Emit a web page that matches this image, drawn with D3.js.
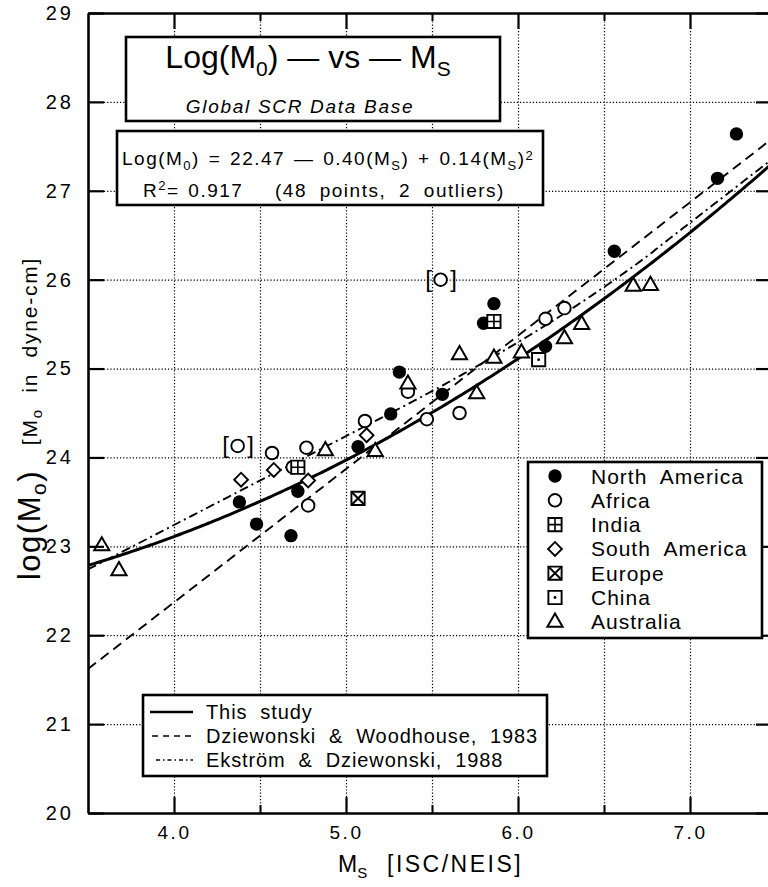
<!DOCTYPE html>
<html>
<head>
<meta charset="utf-8">
<script src="https://cdn.jsdelivr.net/npm/d3@7"></script>
<style>
  body { margin: 0; background: #fff; }
  svg { display: block; }
  text { font-family: 'Liberation Sans', Arial, Helvetica, sans-serif; fill: #000; }
</style>
</head>
<body>
<svg id="chart" width="768" height="887"></svg>
<script>
// values (Ms, log M0)
var northAmerica = [[4.38, 23.50], [4.48, 23.25], [4.68, 23.12], [4.72, 23.62], [5.07, 24.12], [5.26, 24.49], [5.31, 24.96],
  [5.56, 24.71], [5.80, 25.51], [5.86, 25.73], [6.16, 25.25], [6.56, 26.32], [7.16, 27.14], [7.27, 27.64]];
var africa = [[4.57, 24.05], [4.69, 23.89], [4.77, 24.11], [4.78, 23.46], [5.11, 24.41], [5.36, 24.74], [5.47, 24.43],
  [5.66, 24.50], [6.16, 25.56], [6.27, 25.68]];
var africaOutliers = [[4.37, 24.13], [5.55, 26.00]];
var india = [[4.72, 23.89], [5.86, 25.53]];
var southAmerica = [[4.39, 23.75], [4.58, 23.86], [4.78, 23.74], [5.12, 24.25]];
var europe = [[5.07, 23.54]];
var china = [[6.12, 25.10]];
var australia = [[3.58, 23.01], [3.68, 22.73], [4.88, 24.08], [5.17, 24.07], [5.36, 24.83], [5.66, 25.16], [5.76, 24.72],
  [5.86, 25.12], [6.02, 25.18], [6.27, 25.34], [6.37, 25.50], [6.67, 25.93], [6.77, 25.94]];

// relations drawn as lines
var thisStudyCoef = [22.47, -0.40, 0.14];           // a + b*Ms + c*Ms^2 (printed in the box)
var dwLine = [[3.5, 21.62], [7.5, 27.62]];          // Dziewonski & Woodhouse 1983, straight
var edBreaks = [5.3, 6.8];                          // Ekstrom & Dziewonski 1988 piecewise relation
var edLow = [19.24, 1.0], edMid = [30.20, 92.45, 11.40], edHigh = [16.14, 1.5];

var xDomain = [3.5, 7.5], yDomain = [20, 29];
var xMajor = [4, 5, 6, 7], xMinor = [4.5, 5.5, 6.5], xGrid = [4, 4.5, 5, 5.5, 6, 6.5, 7, 7.5];
var yTicks = [20, 21, 22, 23, 24, 25, 26, 27, 28, 29];

var legendRegions = ['North  America', 'Africa', 'India', 'South  America', 'Europe', 'China', 'Australia'];
var legendLines = ['This  study', 'Dziewonski  &  Woodhouse,  1983', 'Ekström  &  Dziewonski,  1988'];

var svg = d3.select('#chart');
svg.append('rect').attr('width', 768).attr('height', 887).attr('fill', '#fff');

var plotL = 88, plotR = 776, plotT = 13, plotB = 813;
var x = d3.scaleLinear().domain(xDomain).range([plotL, plotR]);
var y = d3.scaleLinear().domain(yDomain).range([plotB, plotT]);

// dotted grid
svg.append('g').attr('transform', 'translate(0,' + plotB + ')')
  .call(d3.axisBottom(x).tickValues(xGrid).tickSize(-(plotB - plotT)).tickFormat(''))
  .call(function(g) { g.select('.domain').remove(); })
  .selectAll('line').attr('stroke', '#000').attr('stroke-width', 1.2).attr('stroke-dasharray', '1.2,2');
svg.append('g').attr('transform', 'translate(' + plotL + ',0)')
  .call(d3.axisLeft(y).tickValues(yTicks.slice(1, -1)).tickSize(-(plotR - plotL)).tickFormat(''))
  .call(function(g) { g.select('.domain').remove(); })
  .selectAll('line').attr('stroke', '#000').attr('stroke-width', 1.2).attr('stroke-dasharray', '1.2,2');

// curves
svg.append('clipPath').attr('id', 'plotclip').append('rect')
  .attr('x', plotL).attr('y', plotT).attr('width', plotR - plotL).attr('height', plotB - plotT);
var line = d3.line().x(function(d) { return x(d[0]); }).y(function(d) { return y(d[1]); });
var sampleMs = d3.range(xDomain[0], xDomain[1] + 0.001, 0.02);
var studyPts = sampleMs.map(function(m) { return [m, thisStudyCoef[0] + thisStudyCoef[1] * m + thisStudyCoef[2] * m * m]; });
var edPts = sampleMs.map(function(m) {
  var v;
  if (m < edBreaks[0]) v = edLow[0] + edLow[1] * m;
  else if (m <= edBreaks[1]) v = edMid[0] - Math.sqrt(edMid[1] - edMid[2] * m);
  else v = edHigh[0] + edHigh[1] * m;
  return [m, v];
});
var curves = svg.append('g').attr('clip-path', 'url(#plotclip)').attr('fill', 'none').attr('stroke', '#000');
curves.append('path').attr('d', line(dwLine)).attr('stroke-width', 1.9).attr('stroke-dasharray', '10,6');
curves.append('path').attr('d', line(edPts)).attr('stroke-width', 1.9).attr('stroke-dasharray', '9,4,2,4');
curves.append('path').attr('d', line(studyPts)).attr('stroke-width', 3);

// markers
var sym = {
  filled: d3.symbol(d3.symbolCircle, 141)(),
  circle: d3.symbol(d3.symbolCircle, 125)(),
  square: d3.symbol(d3.symbolSquare, 175)(),
  diamond: d3.symbol(d3.symbolSquare, 95)(),
  triangle: d3.symbol(d3.symbolTriangle, 100)()
};
function marker(g, kind) {
  var h = 6.6;
  if (kind == 'na') {
    g.append('path').attr('d', sym.filled).attr('fill', '#000');
  } else if (kind == 'africa') {
    g.append('path').attr('d', sym.circle).attr('fill', '#fff').attr('stroke', '#000').attr('stroke-width', 1.9);
  } else if (kind == 'sam') {
    g.append('path').attr('d', sym.diamond).attr('transform', 'rotate(45)').attr('fill', '#fff').attr('stroke', '#000').attr('stroke-width', 1.9);
  } else if (kind == 'aus') {
    g.append('path').attr('d', sym.triangle).attr('transform', 'translate(0,0.5)').attr('fill', '#fff').attr('stroke', '#000').attr('stroke-width', 2);
  } else {
    g.append('path').attr('d', sym.square).attr('fill', '#fff').attr('stroke', '#000').attr('stroke-width', 1.9);
    if (kind == 'india') {
      g.append('path').attr('d', 'M0,' + -h + 'V' + h + 'M' + -h + ',0H' + h).attr('stroke', '#000').attr('stroke-width', 1.6);
    } else if (kind == 'europe') {
      g.append('path').attr('d', 'M' + -h + ',' + -h + 'L' + h + ',' + h + 'M' + -h + ',' + h + 'L' + h + ',' + -h).attr('stroke', '#000').attr('stroke-width', 2);
    } else if (kind == 'china') {
      g.append('circle').attr('r', 1.4).attr('fill', '#000');
    }
  }
}
var series = [
  ['na', northAmerica], ['africa', africa], ['africa', africaOutliers], ['sam', southAmerica],
  ['india', india], ['europe', europe], ['china', china], ['aus', australia]
];
var pts = svg.append('g');
series.forEach(function(s) {
  s[1].forEach(function(d) {
    var g = pts.append('g').attr('transform', 'translate(' + x(d[0]) + ',' + y(d[1]) + ')');
    marker(g, s[0]);
  });
});
// brackets around the two outliers
africaOutliers.forEach(function(d) {
  [['[', -12], [']', 13]].forEach(function(b) {
    pts.append('text').attr('x', x(d[0]) + b[1]).attr('y', y(d[1]) + 7).attr('text-anchor', 'middle')
      .style('font-size', '24px').text(b[0]);
  });
});

// frame and ticks
function styleAxis(g) {
  g.select('.domain').attr('stroke-width', 2.6);
  g.selectAll('.tick line').attr('stroke-width', 2.2);
}
svg.append('g').attr('transform', 'translate(0,' + plotB + ')')
  .call(d3.axisBottom(x).tickValues(xMajor).tickSizeInner(-16).tickSizeOuter(0).tickPadding(13).tickFormat(d3.format('.1f')))
  .call(styleAxis)
  .selectAll('text').style('font-size', '19px').style('letter-spacing', '2.5px');
svg.append('g').attr('transform', 'translate(0,' + plotB + ')')
  .call(d3.axisBottom(x).tickValues(xMinor).tickSize(-8).tickFormat(''))
  .call(function(g) { g.select('.domain').remove(); g.selectAll('line').attr('stroke-width', 2); });
svg.append('g').attr('transform', 'translate(0,' + plotT + ')')
  .call(d3.axisTop(x).tickValues(xMajor).tickSizeInner(-16).tickSizeOuter(0).tickFormat(''))
  .call(styleAxis);
svg.append('g').attr('transform', 'translate(0,' + plotT + ')')
  .call(d3.axisTop(x).tickValues(xMinor).tickSize(-8).tickFormat(''))
  .call(function(g) { g.select('.domain').remove(); g.selectAll('line').attr('stroke-width', 2); });
svg.append('g').attr('transform', 'translate(' + plotL + ',0)')
  .call(d3.axisLeft(y).tickValues(yTicks).tickSizeInner(-16).tickSizeOuter(0).tickPadding(14).tickFormat(d3.format('d')))
  .call(styleAxis)
  .selectAll('text').style('font-size', '20px').style('letter-spacing', '3px');
svg.append('g').attr('transform', 'translate(' + plotR + ',0)')
  .call(d3.axisRight(y).tickValues(yTicks).tickSizeInner(-20).tickSizeOuter(0).tickFormat(''))
  .call(styleAxis);
svg.selectAll('.tick text').attr('fill', '#000');
svg.selectAll('.domain, .tick line').attr('stroke', '#000');

// rich text helper: parts = [[text, 'sub'|'sup'|undefined], ...]
function rich(t, parts, small, shift) {
  var offset = 0;
  parts.forEach(function(p) {
    var target = p[1] == 'sub' ? shift : p[1] == 'sup' ? -shift : 0;
    var ts = t.append('tspan').text(p[0]);
    if (target != offset) ts.attr('dy', target - offset);
    if (p[1]) ts.style('font-size', small + 'px');
    offset = target;
  });
  return t;
}

// title boxes
svg.append('rect').attr('x', 126).attr('y', 37).attr('width', 374).attr('height', 84)
  .attr('fill', '#fff').attr('stroke', '#000').attr('stroke-width', 2.6);
rich(svg.append('text').attr('x', 308).attr('y', 68).attr('text-anchor', 'middle').style('font-size', '32px'),
  [['Log(M'], ['0', 'sub'], [') — vs — M'], ['S', 'sub']], 21, 8);
svg.append('text').attr('x', 300).attr('y', 113).attr('text-anchor', 'middle')
  .style('font-size', '19px').style('font-style', 'italic').style('letter-spacing', '1.7px')
  .text('Global SCR Data Base');

svg.append('rect').attr('x', 117).attr('y', 131).attr('width', 426).attr('height', 74)
  .attr('fill', '#fff').attr('stroke', '#000').attr('stroke-width', 2.6);
rich(svg.append('text').attr('x', 122).attr('y', 165).style('font-size', '19px').style('letter-spacing', '1.5px').style('word-spacing', '2px'),
  [['Log(M'], ['0', 'sub'], [') = 22.47 — 0.40(M'], ['S', 'sub'], [') + 0.14(M'], ['S', 'sub'], [')'], ['2', 'sup']], 13, 5);
rich(svg.append('text').attr('x', 143).attr('y', 197).style('font-size', '19px').style('letter-spacing', '1.5px').style('word-spacing', '2px'),
  [['R'], ['2', 'sup'], ['= 0.917']], 13, 7);
svg.append('text').attr('x', 275).attr('y', 197).style('font-size', '19px').style('letter-spacing', '1.5px').style('word-spacing', '6px')
  .text('(48 points, 2 outliers)');

// region legend
var leg = svg.append('g');
leg.append('rect').attr('x', 528).attr('y', 462).attr('width', 234).attr('height', 176)
  .attr('fill', '#fff').attr('stroke', '#000').attr('stroke-width', 2.6);
var legKinds = ['na', 'africa', 'india', 'sam', 'europe', 'china', 'aus'];
legendRegions.forEach(function(name, i) {
  var ry = 476 + i * 24.3;
  marker(leg.append('g').attr('transform', 'translate(555,' + ry + ')'), legKinds[i]);
  leg.append('text').attr('x', 591).attr('y', ry + 7.5).attr('xml:space', 'preserve')
    .style('font-size', '21px').style('letter-spacing', '1px').text(name);
});

// line legend
var lleg = svg.append('g');
lleg.append('rect').attr('x', 143).attr('y', 695).attr('width', 404).attr('height', 81)
  .attr('fill', '#fff').attr('stroke', '#000').attr('stroke-width', 2.6);
var lineStyles = [[2.6, null, 150], [1.6, '6,5', 152], [1.6, '4,3,1.5,3', 156]];
legendLines.forEach(function(name, i) {
  var ry = 712 + i * 24;
  lleg.append('line').attr('x1', lineStyles[i][2]).attr('x2', 193).attr('y1', ry).attr('y2', ry)
    .attr('stroke', '#000').attr('stroke-width', lineStyles[i][0]).attr('stroke-dasharray', lineStyles[i][1]);
  lleg.append('text').attr('x', 206).attr('y', ry + 7).attr('xml:space', 'preserve')
    .style('font-size', '20px').style('letter-spacing', '0.9px').text(name);
});

// axis titles
rich(svg.append('text').attr('x', 338).attr('y', 872).style('font-size', '23px'),
  [['M'], ['S', 'sub']], 15, 6);
svg.append('text').attr('x', 387).attr('y', 872).style('font-size', '23px').style('letter-spacing', '2.5px').text('[ISC/NEIS]');

rich(svg.append('text').attr('transform', 'translate(40,525) rotate(-90)').attr('text-anchor', 'middle')
  .style('font-size', '31px').style('letter-spacing', '1.5px'),
  [['log(M'], ['o', 'sub'], [')', null]], 21, 6);
rich(svg.append('text').attr('transform', 'translate(37,351) rotate(-90)').attr('text-anchor', 'middle')
  .attr('xml:space', 'preserve').style('font-size', '21px').style('letter-spacing', '1.8px'),
  [['[M'], ['o', 'sub'], ['  in  dyne-cm]']], 15, 5);
</script>
</body>
</html>
